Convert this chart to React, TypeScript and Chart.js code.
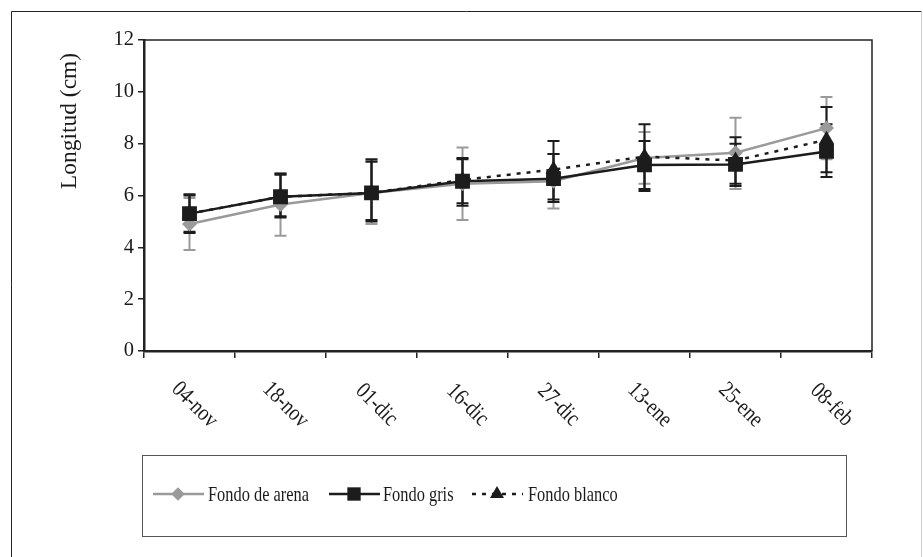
import React, { useEffect, useRef } from "react";
import { Chart, registerables } from "chart.js";

Chart.register(...registerables);

const categories = ["04-nov", "18-nov", "01-dic", "16-dic", "27-dic", "13-ene", "25-ene", "08-feb"];

const arenaValues = [4.9, 5.65, 6.1, 6.45, 6.55, 7.45, 7.65, 8.6];
const arenaLow = [3.9, 4.45, 4.9, 5.05, 5.5, 6.45, 6.25, 7.4];
const arenaHigh = [5.9, 6.85, 7.35, 7.85, 7.6, 8.45, 9.0, 9.8];

const grisValues = [5.3, 5.95, 6.1, 6.55, 6.65, 7.18, 7.2, 7.7];
const grisLow = [4.55, 5.15, 5.0, 5.7, 5.75, 6.25, 6.37, 6.71];
const grisHigh = [6.05, 6.85, 7.4, 7.45, 7.6, 8.1, 8.0, 8.75];

const blancoValues = [5.3, 5.95, 6.1, 6.6, 7.0, 7.5, 7.35, 8.15];
const blancoLow = [4.6, 5.2, 5.05, 5.6, 5.85, 6.17, 6.45, 6.9];
const blancoHigh = [6.0, 6.8, 7.3, 7.4, 8.1, 8.75, 8.25, 9.41];

const yTicks = [0, 2, 4, 6, 8, 10, 12];

const seriesNames = ["Fondo de arena", "Fondo gris", "Fondo blanco"];
const yTitle = "Longitud (cm)";

const GRAY = "#9a9a9a";
const BLACK = "#1c1c1c";
const FONT = "'Liberation Serif', 'Times New Roman', serif";

const errorData = [
  { low: arenaLow, high: arenaHigh },
  { low: grisLow, high: grisHigh },
  { low: blancoLow, high: blancoHigh },
];

const errorBarsPlugin = {
  id: "errorBars",
  beforeDatasetsDraw(chart: any) {
    const ctx = chart.ctx;
    const x = chart.scales.x;
    const y = chart.scales.y;
    ctx.save();
    chart.data.datasets.forEach((ds: any, di: number) => {
      const err = errorData[di];
      ctx.strokeStyle = ds.borderColor;
      ctx.lineWidth = 2;
      ctx.setLineDash([]);
      ds.data.forEach((_v: number, i: number) => {
        const px = x.getPixelForValue(i);
        const lo = y.getPixelForValue(err.low[i]);
        const hi = y.getPixelForValue(err.high[i]);
        ctx.beginPath();
        ctx.moveTo(px, lo);
        ctx.lineTo(px, hi);
        ctx.moveTo(px - 6, lo);
        ctx.lineTo(px + 6, lo);
        ctx.moveTo(px - 6, hi);
        ctx.lineTo(px + 6, hi);
        ctx.stroke();
      });
    });
    ctx.restore();
  },
};

function drawMarker(ctx: CanvasRenderingContext2D, style: string, x: number, y: number, r: number) {
  ctx.beginPath();
  if (style === "rectRot") {
    ctx.moveTo(x - r, y);
    ctx.lineTo(x, y - r);
    ctx.lineTo(x + r, y);
    ctx.lineTo(x, y + r);
  } else if (style === "rect") {
    const s = Math.SQRT1_2 * r;
    ctx.rect(x - s, y - s, 2 * s, 2 * s);
  } else {
    ctx.moveTo(x, y - r);
    ctx.lineTo(x + r * 0.866, y + r / 2);
    ctx.lineTo(x - r * 0.866, y + r / 2);
  }
  ctx.closePath();
  ctx.fill();
}

const decorPlugin = {
  id: "decor",
  afterDraw(chart: any) {
    const ctx = chart.ctx;
    const area = chart.chartArea;
    const xs = chart.scales.x;
    ctx.save();
    // outer frame
    ctx.strokeStyle = "#222";
    ctx.lineWidth = 1;
    ctx.beginPath();
    ctx.moveTo(11.5, 560);
    ctx.lineTo(11.5, 11.5);
    ctx.lineTo(921.5, 11.5);
    ctx.stroke();
    ctx.strokeStyle = "#cfcfcf";
    ctx.beginPath();
    ctx.moveTo(921.5, 11.5);
    ctx.lineTo(921.5, 560);
    ctx.stroke();

    // plot box top & right
    ctx.strokeStyle = "#222";
    ctx.lineWidth = 1.5;
    ctx.beginPath();
    ctx.moveTo(area.left, area.top);
    ctx.lineTo(area.right, area.top);
    ctx.lineTo(area.right, area.bottom);
    ctx.stroke();

    // y title
    ctx.fillStyle = "#1a1a1a";
    ctx.font = `23.5px ${FONT}`;
    ctx.textAlign = "center";
    ctx.textBaseline = "middle";
    ctx.save();
    ctx.translate(70, 121);
    ctx.rotate(-Math.PI / 2);
    ctx.fillText(yTitle, 0, 0);
    ctx.restore();

    // rotated x labels
    ctx.font = `23px ${FONT}`;
    chart.data.labels.forEach((lab: string, i: number) => {
      const px = xs.getPixelForValue(i);
      ctx.save();
      ctx.translate(px + 5, area.bottom + 54);
      ctx.rotate(Math.PI / 4);
      ctx.scale(0.84, 1);
      ctx.fillText(lab, 0, 0);
      ctx.restore();
    });

    // legend box
    ctx.strokeStyle = "#555";
    ctx.lineWidth = 1;
    ctx.strokeRect(142.5, 455.5, 704, 81);
    const ly = 494;
    const items = [
      { x0: 153, tx: 208 },
      { x0: 329, tx: 383 },
      { x0: 472, tx: 528 },
    ];
    chart.data.datasets.forEach((ds: any, di: number) => {
      const it = items[di];
      ctx.strokeStyle = ds.borderColor;
      ctx.lineWidth = ds.borderWidth;
      ctx.setLineDash(ds.borderDash || []);
      ctx.beginPath();
      ctx.moveTo(it.x0, ly);
      ctx.lineTo(it.x0 + 51, ly);
      ctx.stroke();
      ctx.setLineDash([]);
      ctx.fillStyle = ds.pointBackgroundColor;
      drawMarker(ctx, ds.pointStyle, it.x0 + 25, ly, ds.pointRadius * 0.9);
      ctx.fillStyle = "#1a1a1a";
      ctx.font = `21px ${FONT}`;
      ctx.textAlign = "left";
      ctx.textBaseline = "middle";
      ctx.save();
      ctx.translate(it.tx, ly + 1);
      ctx.scale(0.78, 1);
      ctx.fillText(ds.label, 0, 0);
      ctx.restore();
    });
    ctx.restore();
  },
};

export default function App() {
  const ref = useRef<HTMLCanvasElement | null>(null);
  useEffect(() => {
    document.body.style.margin = "0";
    const chart = new Chart(ref.current as HTMLCanvasElement, {
      type: "line",
      data: {
        labels: categories,
        datasets: [
          {
            label: seriesNames[0],
            data: arenaValues,
            order: 3,
            borderColor: GRAY,
            borderWidth: 2.5,
            pointStyle: "rectRot",
            pointRadius: 7.5,
            pointBackgroundColor: GRAY,
            pointBorderColor: GRAY,
            pointBorderWidth: 0,
            tension: 0,
          },
          {
            label: seriesNames[1],
            data: grisValues,
            order: 2,
            borderColor: BLACK,
            borderWidth: 2.5,
            pointStyle: "rect",
            pointRadius: 10.5,
            pointBackgroundColor: BLACK,
            pointBorderColor: BLACK,
            pointBorderWidth: 0,
            tension: 0,
          },
          {
            label: seriesNames[2],
            data: blancoValues,
            order: 1,
            borderColor: BLACK,
            borderWidth: 2.5,
            borderDash: [4, 6],
            pointStyle: "triangle",
            pointRadius: 9,
            pointBackgroundColor: BLACK,
            pointBorderColor: BLACK,
            pointBorderWidth: 0,
            tension: 0,
          },
        ],
      },
      options: {
        responsive: true,
        maintainAspectRatio: false,
        animation: false,
        layout: { padding: { left: 48, top: 40, right: 51, bottom: 196 } },
        plugins: { legend: { display: false }, tooltip: { enabled: false } },
        scales: {
          x: {
            type: "category",
            offset: true,
            grid: {
              offset: true,
              drawOnChartArea: false,
              drawTicks: true,
              tickLength: 7,
              color: "#222",
              lineWidth: 1.5,
            },
            border: { display: true, color: "#222", width: 2.5 },
            ticks: { display: false },
            afterFit: (s: any) => {
              s.height = 10;
            },
          },
          y: {
            min: 0,
            max: 12,
            afterBuildTicks: (s: any) => {
              s.ticks = yTicks.map((v) => ({ value: v }));
            },
            grid: {
              drawOnChartArea: false,
              drawTicks: true,
              tickLength: 6,
              color: "#222",
              lineWidth: 1.5,
            },
            border: { display: true, color: "#222", width: 2.5 },
            ticks: {
              padding: 4,
              color: "#1a1a1a",
              font: { family: FONT, size: 20.5 },
            },
            afterFit: (s: any) => {
              s.width = 96;
            },
          },
        },
      },
      plugins: [errorBarsPlugin, decorPlugin],
    });
    return () => chart.destroy();
  }, []);
  return (
    <div style={{ width: 923, height: 557, position: "relative" }}>
      <canvas ref={ref} />
    </div>
  );
}
